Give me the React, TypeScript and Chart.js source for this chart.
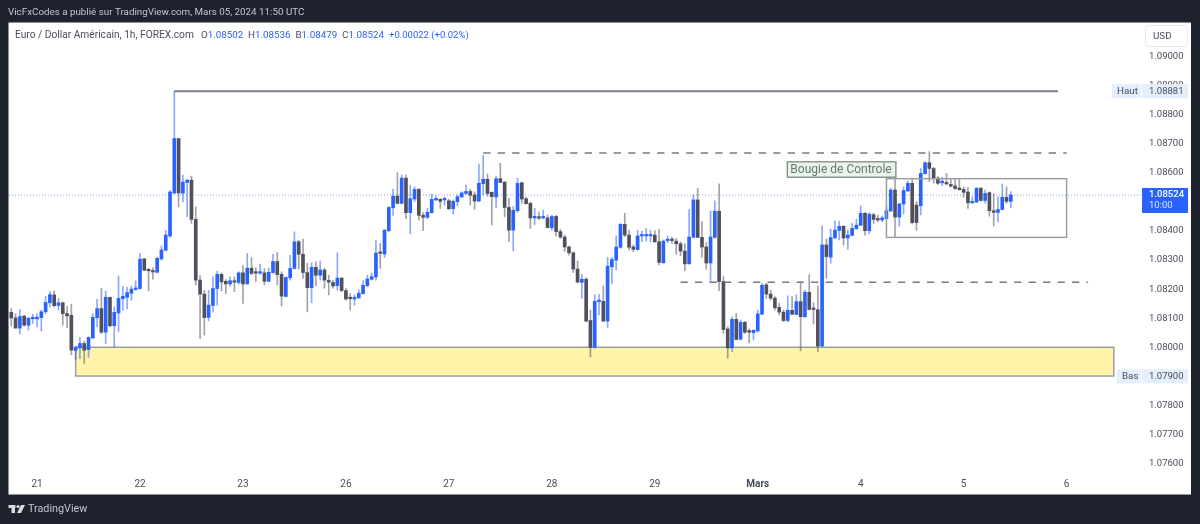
import { useEffect, useRef } from 'react'
import { Chart, registerables } from 'chart.js'

Chart.register(...registerables)

const FONT = 'Roboto, sans-serif'

const opens = [
  1.0812, 1.08101, 1.08066, 1.08107, 1.08076, 1.08098, 1.08098, 1.08102, 1.08122, 1.08153,
  1.0818, 1.08144, 1.08153, 1.08116, 1.0811, 1.07989, 1.07998, 1.08013, 1.07992, 1.08032,
  1.08102, 1.08133, 1.08052, 1.08172, 1.08074, 1.08118, 1.08167, 1.08172, 1.08186, 1.08199,
  1.08202, 1.08304, 1.08267, 1.08263, 1.08258, 1.08304, 1.08334, 1.08383, 1.08531, 1.08718,
  1.0853, 1.08567, 1.08575, 1.0844, 1.08231, 1.08183, 1.08103, 1.08144, 1.08202, 1.08251,
  1.08227, 1.08218, 1.08229, 1.08223, 1.08256, 1.08218, 1.08272, 1.08258, 1.08255, 1.08256,
  1.08227, 1.08257, 1.08295, 1.08251, 1.08175, 1.08239, 1.08271, 1.08363, 1.0832, 1.08257,
  1.08205, 1.08275, 1.08248, 1.08266, 1.0823, 1.08223, 1.08212, 1.08238, 1.08195, 1.08168,
  1.08166, 1.0817, 1.08185, 1.08212, 1.08234, 1.08242, 1.08326, 1.08321, 1.08401, 1.0848,
  1.0852, 1.08495, 1.08582, 1.08463, 1.0851, 1.08543, 1.08454, 1.08447, 1.08463, 1.08507,
  1.08509, 1.08507, 1.08504, 1.08477, 1.08501, 1.08517, 1.08529, 1.08536, 1.08524, 1.08503,
  1.08563, 1.08578, 1.08533, 1.08517, 1.0858, 1.08568, 1.08481, 1.08403, 1.0847, 1.08566,
  1.08511, 1.08495, 1.08445, 1.08445, 1.08445, 1.08445, 1.08411, 1.0845, 1.08398, 1.08379,
  1.08345, 1.08325, 1.08269, 1.08223, 1.08234, 1.08092, 1.08, 1.08157, 1.08158, 1.0809,
  1.08277, 1.083, 1.08344, 1.08423, 1.08386, 1.08345, 1.08336, 1.08383, 1.08383, 1.08383,
  1.08386, 1.08363, 1.08291, 1.08367, 1.0837, 1.08365, 1.08356, 1.08331, 1.08287, 1.08378,
  1.08507, 1.08378, 1.08345, 1.0829, 1.08378, 1.08468, 1.08226, 1.08063, 1.07998, 1.08096,
  1.08028, 1.08086, 1.08053, 1.0805, 1.08056, 1.08114, 1.08215, 1.08183, 1.08169, 1.08137,
  1.08121, 1.08092, 1.08127, 1.08113, 1.08157, 1.08105, 1.08189, 1.08131, 1.08129, 1.08004,
  1.08352, 1.0831, 1.08376, 1.08402, 1.08416, 1.08376, 1.08385, 1.08408, 1.0842, 1.08461,
  1.08401, 1.08456, 1.08442, 1.08438, 1.08443, 1.08469, 1.08541, 1.08448, 1.08493, 1.08538,
  1.08564, 1.08489, 1.08487, 1.08597, 1.08635, 1.08615, 1.08582, 1.08566, 1.08567, 1.0856,
  1.08555, 1.08548, 1.08543, 1.08534, 1.08497, 1.085, 1.08547, 1.08505, 1.08532, 1.0847,
  1.08464, 1.08474, 1.08516, 1.08502,
]

const closes = [
  1.08101, 1.08066, 1.08106, 1.08076, 1.081, 1.081, 1.08103, 1.08122, 1.08154, 1.08181,
  1.08143, 1.08153, 1.08116, 1.08108, 1.0799, 1.08, 1.08013, 1.0799, 1.08034, 1.08103,
  1.08133, 1.08052, 1.08172, 1.08074, 1.0812, 1.08168, 1.08175, 1.08188, 1.082, 1.08203,
  1.08303, 1.08265, 1.08263, 1.08259, 1.08306, 1.08335, 1.08386, 1.08534, 1.08718, 1.08531,
  1.08568, 1.08575, 1.0844, 1.08231, 1.08183, 1.08102, 1.08145, 1.08202, 1.08251, 1.08225,
  1.08218, 1.08229, 1.08224, 1.08256, 1.08218, 1.08272, 1.08254, 1.08255, 1.08258, 1.08227,
  1.08258, 1.08295, 1.0825, 1.08176, 1.0824, 1.08271, 1.08363, 1.0832, 1.08257, 1.08205,
  1.08275, 1.08248, 1.08266, 1.08231, 1.08224, 1.08211, 1.08238, 1.08195, 1.08166, 1.08167,
  1.08172, 1.08186, 1.08213, 1.08235, 1.08243, 1.08324, 1.08323, 1.08403, 1.08481, 1.0852,
  1.08495, 1.08582, 1.08463, 1.08511, 1.08543, 1.08454, 1.08447, 1.08464, 1.08509, 1.08509,
  1.08502, 1.08509, 1.08476, 1.08502, 1.08518, 1.08531, 1.08536, 1.08523, 1.08503, 1.08564,
  1.08578, 1.08529, 1.08518, 1.0858, 1.08567, 1.08481, 1.08403, 1.08471, 1.08564, 1.0851,
  1.08494, 1.08445, 1.08446, 1.08444, 1.08446, 1.08412, 1.0845, 1.08398, 1.08379, 1.08345,
  1.08325, 1.08269, 1.08224, 1.08234, 1.0809, 1.08, 1.08158, 1.08158, 1.0809, 1.08279,
  1.08302, 1.08345, 1.08423, 1.08386, 1.08344, 1.08337, 1.08383, 1.08385, 1.08385, 1.08385,
  1.08363, 1.08292, 1.08365, 1.0837, 1.08367, 1.08356, 1.08331, 1.08287, 1.08379, 1.08507,
  1.08378, 1.08345, 1.0829, 1.08379, 1.08468, 1.08226, 1.08061, 1.07998, 1.08096, 1.08027,
  1.08086, 1.08052, 1.08052, 1.08058, 1.08115, 1.08213, 1.08183, 1.08169, 1.08136, 1.08121,
  1.08092, 1.08127, 1.08114, 1.08157, 1.08105, 1.08189, 1.0813, 1.0813, 1.08004, 1.08352,
  1.08312, 1.08377, 1.08403, 1.08416, 1.08376, 1.08386, 1.08409, 1.0842, 1.08461, 1.08401,
  1.08458, 1.0844, 1.08438, 1.08445, 1.0847, 1.08541, 1.08448, 1.08493, 1.08539, 1.08564,
  1.08429, 1.08429, 1.08598, 1.08635, 1.08615, 1.08581, 1.08564, 1.08568, 1.08562, 1.08554,
  1.08546, 1.08542, 1.08533, 1.08497, 1.08502, 1.08547, 1.08505, 1.08529, 1.0847, 1.08464,
  1.08474, 1.08516, 1.08502, 1.08524,
]

const highs = [
  1.08133, 1.08116, 1.0813, 1.0811, 1.08102, 1.08114, 1.08116, 1.08128, 1.08176, 1.08192,
  1.08194, 1.08168, 1.08155, 1.08141, 1.08148, 1.08005, 1.08034, 1.08021, 1.08036, 1.08116,
  1.08165, 1.08202, 1.08193, 1.08173, 1.08139, 1.08245, 1.0821, 1.08206, 1.08211, 1.08229,
  1.08323, 1.08306, 1.08271, 1.08274, 1.08309, 1.08349, 1.08403, 1.0854, 1.08881, 1.08719,
  1.08592, 1.08577, 1.08589, 1.08483, 1.08247, 1.08196, 1.08196, 1.08242, 1.08262, 1.08256,
  1.08233, 1.08242, 1.08242, 1.0826, 1.08281, 1.08323, 1.08309, 1.08274, 1.08286, 1.08271,
  1.08273, 1.0832, 1.08326, 1.0826, 1.08242, 1.08316, 1.08397, 1.08368, 1.08371, 1.08289,
  1.08291, 1.08294, 1.08297, 1.08271, 1.08248, 1.08231, 1.08325, 1.0824, 1.08203, 1.08185,
  1.0818, 1.08197, 1.08229, 1.08248, 1.08256, 1.08369, 1.08357, 1.08406, 1.08484, 1.08543,
  1.08601, 1.08593, 1.08593, 1.08558, 1.08552, 1.08547, 1.08463, 1.08478, 1.08527, 1.0852,
  1.08512, 1.08516, 1.08509, 1.08507, 1.08524, 1.08535, 1.08558, 1.08544, 1.08535, 1.0863,
  1.08661, 1.08596, 1.08535, 1.08589, 1.08633, 1.08571, 1.08512, 1.08484, 1.08582, 1.08568,
  1.08516, 1.085, 1.08478, 1.08465, 1.08472, 1.08455, 1.08455, 1.08454, 1.08406, 1.08386,
  1.08348, 1.08328, 1.08297, 1.08251, 1.0824, 1.08128, 1.08181, 1.08182, 1.08211, 1.08309,
  1.08309, 1.08383, 1.08426, 1.08461, 1.08403, 1.08352, 1.08403, 1.084, 1.08409, 1.08403,
  1.08401, 1.08406, 1.08369, 1.08383, 1.08378, 1.08375, 1.08363, 1.08357, 1.08474, 1.08524,
  1.08547, 1.08432, 1.0836, 1.08469, 1.08504, 1.08562, 1.08245, 1.08071, 1.08105, 1.08117,
  1.08094, 1.08089, 1.08063, 1.08061, 1.08128, 1.0822, 1.0822, 1.08197, 1.08174, 1.08151,
  1.08128, 1.08177, 1.08174, 1.0818, 1.08226, 1.08197, 1.0825, 1.08153, 1.08211, 1.08418,
  1.08372, 1.08406, 1.08434, 1.08434, 1.08419, 1.08403, 1.08426, 1.0844, 1.08486, 1.08463,
  1.08463, 1.08461, 1.08455, 1.08451, 1.08488, 1.08547, 1.08578, 1.08495, 1.08552, 1.08573,
  1.08579, 1.08501, 1.08615, 1.08638, 1.08673, 1.08619, 1.08587, 1.08585, 1.08598, 1.08578,
  1.08581, 1.08581, 1.08552, 1.0855, 1.08518, 1.0855, 1.0855, 1.08541, 1.08535, 1.08529,
  1.08518, 1.08562, 1.08552, 1.08536,
]

const lows = [
  1.08073, 1.08066, 1.08045, 1.08073, 1.08059, 1.08082, 1.0807, 1.08056, 1.08116, 1.08139,
  1.08139, 1.08128, 1.08076, 1.08067, 1.07974, 1.07956, 1.07961, 1.07944, 1.07965, 1.0803,
  1.0807, 1.08047, 1.08013, 1.0807, 1.08001, 1.08053, 1.08128, 1.08132, 1.08162, 1.08196,
  1.082, 1.08263, 1.08194, 1.08234, 1.08256, 1.083, 1.08332, 1.08378, 1.08527, 1.08483,
  1.085, 1.08449, 1.08426, 1.08214, 1.0803, 1.08042, 1.08091, 1.08122, 1.08145, 1.08194,
  1.08185, 1.0821, 1.08191, 1.08217, 1.08151, 1.08217, 1.0825, 1.08227, 1.08251, 1.08214,
  1.08225, 1.08254, 1.08214, 1.08142, 1.08173, 1.08231, 1.08269, 1.08269, 1.08237, 1.08122,
  1.08153, 1.08211, 1.08231, 1.08203, 1.0818, 1.08203, 1.08197, 1.08191, 1.08162, 1.08128,
  1.08145, 1.08168, 1.08182, 1.08208, 1.08231, 1.08231, 1.08271, 1.08309, 1.08398, 1.08454,
  1.08493, 1.08495, 1.08442, 1.0839, 1.08501, 1.08438, 1.08401, 1.08443, 1.08461, 1.08504,
  1.08478, 1.08489, 1.08474, 1.08458, 1.08486, 1.08516, 1.08527, 1.08489, 1.08474, 1.08501,
  1.08524, 1.0852, 1.08421, 1.0848, 1.08566, 1.08449, 1.08363, 1.08332, 1.08465, 1.08495,
  1.08492, 1.08409, 1.08422, 1.0844, 1.08442, 1.0841, 1.08403, 1.08383, 1.08375, 1.0833,
  1.08317, 1.08257, 1.08222, 1.08168, 1.08088, 1.07967, 1.07996, 1.08111, 1.08088, 1.08068,
  1.0822, 1.08266, 1.0834, 1.0838, 1.08334, 1.08329, 1.08334, 1.08363, 1.08365, 1.08363,
  1.0836, 1.08283, 1.08289, 1.0836, 1.08357, 1.0832, 1.08315, 1.08263, 1.08286, 1.08377,
  1.08377, 1.08309, 1.08268, 1.08223, 1.08375, 1.08195, 1.08048, 1.07962, 1.07985, 1.08025,
  1.08025, 1.08048, 1.08015, 1.08025, 1.08053, 1.08112, 1.08168, 1.08162, 1.08128, 1.08111,
  1.08088, 1.08088, 1.08111, 1.08111, 1.07988, 1.08103, 1.08128, 1.0808, 1.07985, 1.08004,
  1.08237, 1.08289, 1.08375, 1.08369, 1.08352, 1.08337, 1.08383, 1.08406, 1.08417, 1.08386,
  1.0839, 1.08426, 1.08432, 1.08432, 1.08441, 1.08466, 1.08378, 1.08417, 1.08458, 1.08535,
  1.08424, 1.08403, 1.08455, 1.08596, 1.0857, 1.08564, 1.0856, 1.08556, 1.08559, 1.08552,
  1.08543, 1.08541, 1.08516, 1.08478, 1.08495, 1.08497, 1.08503, 1.08495, 1.08451, 1.08417,
  1.08432, 1.08472, 1.08495, 1.08479,
]

const priceTicks = [
  1.076, 1.077, 1.078, 1.079, 1.08, 1.081, 1.082, 1.083, 1.084, 1.085, 1.086, 1.087, 1.088, 1.089, 1.09,
]
const dayTicks = [6, 30, 54, 78, 102, 126, 150, 174, 198, 222, 246]
const dayLabels = ['21', '22', '23', '26', '27', '28', '29', 'Mars', '4', '5', '6']

const lastPrice = 1.08524
const highPrice = 1.08881
const lowPrice = 1.079
const legendPrices = ['1.08502', '1.08536', '1.08479', '1.08524']

// drawings on the chart: [bar index from, bar index to], price levels
const highLineBars = [38, 244]
const topDashBars = [110, 246]
const topDashPrice = 1.08668
const midDashBars = [156, 251]
const midDashPrice = 1.08224
const zoneBars = [15, 257]
const zonePrices = [1.08, 1.07901]
const boxBars = [204, 246]
const boxPrices = [1.0858, 1.08378]
const noteBars = [180.9, 206.2]
const notePrices = [1.08638, 1.08585]

const X_MIN = -0.536
const X_MAX = 264.27

const UP = '#2962ff'
const DOWN = '#4f505c'
const UP_WICK = 'rgba(41,98,255,0.55)'
const DOWN_WICK = 'rgba(70,70,85,0.5)'

const isUp = (i: number) => closes[i] >= opens[i]

const level = (bars: number[], price: number) => [
  { x: bars[0], y: price },
  { x: bars[1], y: price },
]

function drawText(ctx: CanvasRenderingContext2D, text: string, x: number, y: number, color: string, font = `9.8px ${FONT}`) {
  ctx.font = font
  ctx.fillStyle = color
  ctx.textAlign = 'left'
  ctx.textBaseline = 'middle'
  ctx.fillText(text, x, y)
  return ctx.measureText(text).width
}

const pagePlugin = {
  id: 'page',
  beforeDraw(chart: any) {
    const { ctx } = chart
    ctx.save()
    ctx.fillStyle = '#1e222d'
    ctx.fillRect(0, 0, 1200, 524)
    ctx.fillStyle = '#ffffff'
    ctx.fillRect(8.5, 22.5, 1182.5, 472)
    ctx.restore()
  },
  beforeDatasetsDraw(chart: any) {
    const { ctx, scales } = chart
    const { x, y } = scales
    const left = x.getPixelForValue(zoneBars[0])
    const right = x.getPixelForValue(zoneBars[1])
    const top = y.getPixelForValue(zonePrices[0])
    const bottom = y.getPixelForValue(zonePrices[1])
    ctx.save()
    ctx.fillStyle = '#fff4a8'
    ctx.fillRect(left, top, right - left, bottom - top)
    ctx.strokeStyle = '#9b9ea3'
    ctx.lineWidth = 1.5
    ctx.strokeRect(left, top, right - left, bottom - top)
    ctx.restore()
  },
  afterDatasetsDraw(chart: any) {
    const { ctx, scales } = chart
    const { x, y } = scales
    ctx.save()
    const bl = x.getPixelForValue(boxBars[0])
    const br = x.getPixelForValue(boxBars[1])
    const bt = y.getPixelForValue(boxPrices[0])
    const bb = y.getPixelForValue(boxPrices[1])
    ctx.strokeStyle = '#9b9ea3'
    ctx.lineWidth = 1.5
    ctx.strokeRect(bl, bt, br - bl, bb - bt)

    const nl = x.getPixelForValue(noteBars[0])
    const nr = x.getPixelForValue(noteBars[1])
    const nt = y.getPixelForValue(notePrices[0])
    const nb = y.getPixelForValue(notePrices[1])
    ctx.fillStyle = '#e9f4ea'
    ctx.fillRect(nl, nt, nr - nl, nb - nt)
    ctx.strokeStyle = '#7d8a80'
    ctx.lineWidth = 1.3
    ctx.strokeRect(nl, nt, nr - nl, nb - nt)
    drawText(ctx, 'Bougie de Controle', nl + 3, (nt + nb) / 2 + 0.5, '#667a6c', `12px ${FONT}`)
    ctx.restore()
  },
  afterDraw(chart: any) {
    const { ctx, scales } = chart
    const { y } = scales
    ctx.save()

    // header and footer
    drawText(ctx, 'VicFxCodes a publié sur TradingView.com, Mars 05, 2024 11:50 UTC', 8, 12.5, '#c2c6d0')
    ctx.fillStyle = '#d9dbe1'
    ctx.fillRect(8.5, 505, 7, 3)
    ctx.fillRect(11.5, 505, 3.5, 8)
    ctx.beginPath()
    ctx.arc(18, 506.5, 1.6, 0, Math.PI * 2)
    ctx.fill()
    ctx.beginPath()
    ctx.moveTo(21, 505)
    ctx.lineTo(25, 505)
    ctx.lineTo(21, 513)
    ctx.lineTo(17, 513)
    ctx.closePath()
    ctx.fill()
    drawText(ctx, 'TradingView', 28, 509.5, '#c2c6d0', `10.8px ${FONT}`)

    // legend line
    const dark = '#4a4e5a'
    drawText(ctx, 'Euro / Dollar Américain, 1h, FOREX.com', 15, 35.5, dark, `10.2px ${FONT}`)
    const legendX = [201, 248, 295.5, 342]
    ;['O', 'H', 'B', 'C'].forEach((k, i) => {
      const w = drawText(ctx, k, legendX[i], 35.5, dark)
      drawText(ctx, legendPrices[i], legendX[i] + w, 35.5, UP)
    })
    drawText(ctx, '+0.00022 (+0.02%)', 389, 35.5, UP, `9.5px ${FONT}`)

    // USD button
    ctx.fillStyle = '#ffffff'
    ctx.strokeStyle = '#e6e8ee'
    ctx.lineWidth = 1
    ctx.beginPath()
    ctx.roundRect(1145.5, 25.5, 42, 21, 4)
    ctx.fill()
    ctx.stroke()
    drawText(ctx, 'USD', 1153, 36.5, dark)

    // high and low tags
    const tags: [string, number, number][] = [
      ['Haut', highPrice, 1112],
      ['Bas', lowPrice, 1117],
    ]
    tags.forEach(([name, price, tagLeft]) => {
      const py = y.getPixelForValue(price)
      ctx.fillStyle = '#e3effd'
      ctx.fillRect(tagLeft, py - 7, 1141 - tagLeft, 14)
      ctx.fillRect(1142, py - 7, 46, 14)
      drawText(ctx, name, tagLeft + 5, py + 0.5, dark)
      drawText(ctx, price.toFixed(5), 1149, py + 0.5, dark, `9.5px ${FONT}`)
    })

    // last price tag
    const ly = y.getPixelForValue(lastPrice)
    ctx.fillStyle = UP
    ctx.fillRect(1142, ly - 7, 46, 25)
    drawText(ctx, lastPrice.toFixed(5), 1149, ly - 0.5, '#ffffff', `500 9.5px ${FONT}`)
    drawText(ctx, '10:00', 1149, ly + 11, '#dbe5ff', `9.5px ${FONT}`)
    ctx.restore()
  },
}

export default function App() {
  const chartRef = useRef<HTMLCanvasElement>(null)

  useEffect(() => {
    if (!chartRef.current) return
    document.body.style.margin = '0'
    document.body.style.background = '#1e222d'

    const config: any = {
      type: 'bar',
      data: {
        datasets: [
          {
            type: 'line',
            data: level([X_MIN, X_MAX], lastPrice),
            borderColor: 'rgba(41,98,255,0.6)',
            borderWidth: 1,
            borderDash: [1, 2],
            pointRadius: 0,
            order: 5,
          },
          {
            data: highs.map((h, i) => ({ x: i, y: [lows[i], h] })),
            backgroundColor: (c: any) => (isUp(c.dataIndex) ? UP_WICK : DOWN_WICK),
            barThickness: 1,
            grouped: false,
            order: 4,
          },
          {
            data: opens.map((o, i) => ({ x: i, y: [o, closes[i]] })),
            backgroundColor: (c: any) => (isUp(c.dataIndex) ? UP : DOWN),
            barThickness: 3,
            minBarLength: 1.5,
            grouped: false,
            order: 3,
          },
          {
            type: 'line',
            data: level(highLineBars, highPrice),
            borderColor: '#7c7f88',
            borderWidth: 2,
            pointRadius: 0,
            order: 1,
          },
          {
            type: 'line',
            data: level(topDashBars, topDashPrice),
            borderColor: '#787b86',
            borderWidth: 1.5,
            borderDash: [7.3, 7.2],
            pointRadius: 0,
            order: 1,
          },
          {
            type: 'line',
            data: level(midDashBars, midDashPrice),
            borderColor: '#787b86',
            borderWidth: 1.5,
            borderDash: [7.3, 7.2],
            pointRadius: 0,
            order: 1,
          },
        ],
      },
      options: {
        animation: false,
        responsive: false,
        devicePixelRatio: 1,
        layout: { padding: { left: 9, top: 22 } },
        plugins: { legend: { display: false }, tooltip: { enabled: false } },
        scales: {
          x: {
            type: 'linear',
            offset: false,
            min: X_MIN,
            max: X_MAX,
            grid: { display: false, drawTicks: false },
            border: { display: false },
            afterBuildTicks: (s: any) => {
              s.ticks = dayTicks.map(value => ({ value }))
            },
            afterFit: (s: any) => {
              s.height = 50
            },
            ticks: {
              autoSkip: false,
              maxRotation: 0,
              padding: 4,
              color: '#4a4e5a',
              font: (c: any) => ({
                family: FONT,
                size: 10,
                weight: c.tick && c.tick.value === 174 ? 'bold' : 'normal',
              }),
              callback: (v: number) => dayLabels[dayTicks.indexOf(v)],
            },
          },
          y: {
            position: 'right',
            min: 1.07564,
            max: 1.09119,
            grid: { display: false, drawTicks: false },
            border: { display: false },
            afterBuildTicks: (s: any) => {
              s.ticks = priceTicks.map(value => ({ value }))
            },
            afterFit: (s: any) => {
              s.width = 55
            },
            ticks: {
              padding: 4,
              crossAlign: 'near',
              color: '#4a4e5a',
              font: { family: FONT, size: 9.5 },
              callback: (v: number) => v.toFixed(5),
            },
          },
        },
      },
      plugins: [pagePlugin],
    }

    const chart = new Chart(chartRef.current, config)
    return () => chart.destroy()
  }, [])

  return (
    <div style={{ position: 'absolute', left: 0, top: 0, width: 1200, height: 524 }}>
      <canvas ref={chartRef} width={1200} height={524} style={{ display: 'block' }} />
    </div>
  )
}
